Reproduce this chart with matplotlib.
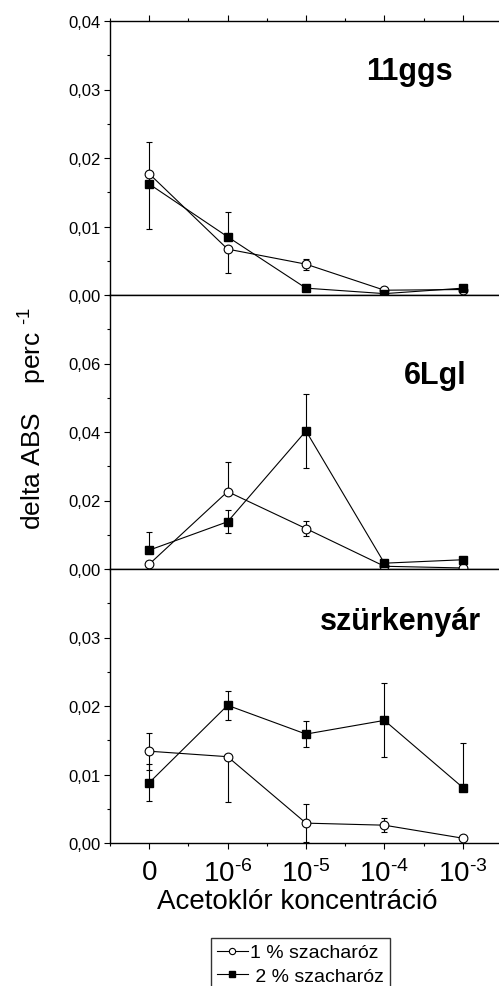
import matplotlib
matplotlib.use("Agg")
import matplotlib.pyplot as plt
from matplotlib.lines import Line2D
from matplotlib.ticker import MultipleLocator, FixedLocator, FuncFormatter

plt.rcParams['font.family'] = ['Liberation Sans', 'DejaVu Sans']
plt.rcParams['mathtext.fontset'] = 'custom'
plt.rcParams['mathtext.rm'] = 'Liberation Sans'
plt.rcParams['mathtext.it'] = 'Liberation Sans:italic'
plt.rcParams['mathtext.bf'] = 'Liberation Sans:bold'

# koncentrációk (egyenlő közökkel ábrázolva)
koncentraciok = ["0", r"10$^{\text{-6}}$", r"10$^{\text{-5}}$", r"10$^{\text{-4}}$", r"10$^{\text{-3}}$"]
x_pos = [0, 1, 2, 3, 4]

panel_nevek = ["11ggs", "6Lgl", "szürkenyár"]

# 1 % szacharóz (üres kör)
egy_11ggs = [0.0177, 0.0067, 0.0045, 0.0007, 0.0008]
egy_11ggs_le = [0.0, 0.0035, 0.0008, 0.0, 0.0]
egy_11ggs_fel = [0.0, 0.0, 0.0008, 0.0, 0.0]
egy_6lgl = [0.0014, 0.0226, 0.0118, 0.0008, 0.0003]
egy_6lgl_le = [0.0004, 0.0, 0.0022, 0.0, 0.0]
egy_6lgl_fel = [0.0004, 0.0086, 0.0022, 0.0, 0.0]
egy_szurke = [0.0134, 0.0126, 0.0029, 0.0026, 0.0007]
egy_szurke_le = [0.0027, 0.0066, 0.0028, 0.0010, 0.0]
egy_szurke_fel = [0.0027, 0.0, 0.0028, 0.0010, 0.0]

# 2 % szacharóz (teli négyzet)
ketto_11ggs = [0.0162, 0.0085, 0.0010, 0.0002, 0.0010]
ketto_11ggs_le = [0.0065, 0.0, 0.0, 0.0, 0.0]
ketto_11ggs_fel = [0.0061, 0.0036, 0.0, 0.0, 0.0]
ketto_6lgl = [0.0055, 0.0138, 0.0403, 0.0017, 0.0027]
ketto_6lgl_le = [0.0, 0.0033, 0.0107, 0.0, 0.0]
ketto_6lgl_fel = [0.0054, 0.0033, 0.0107, 0.0, 0.0]
ketto_szurke = [0.0088, 0.0201, 0.0159, 0.0179, 0.0081]
ketto_szurke_le = [0.0027, 0.0021, 0.0019, 0.0054, 0.0]
ketto_szurke_fel = [0.0027, 0.0021, 0.0019, 0.0054, 0.0065]

egy = [(egy_11ggs, egy_11ggs_le, egy_11ggs_fel),
       (egy_6lgl, egy_6lgl_le, egy_6lgl_fel),
       (egy_szurke, egy_szurke_le, egy_szurke_fel)]
ketto = [(ketto_11ggs, ketto_11ggs_le, ketto_11ggs_fel),
         (ketto_6lgl, ketto_6lgl_le, ketto_6lgl_fel),
         (ketto_szurke, ketto_szurke_le, ketto_szurke_fel)]

y_max = [0.04, 0.08, 0.04]
y_lepes = [0.01, 0.02, 0.01]
y_tickek = [[0, 0.01, 0.02, 0.03, 0.04], [0, 0.02, 0.04, 0.06], [0, 0.01, 0.02, 0.03]]
felirat_hely = [(0.763, 0.788), (0.829, 0.679), (0.742, 0.781)]

W, H = 499, 987
fig = plt.figure(figsize=(W / 100, H / 100), dpi=100)

bal = 110 / W
szel = (502 - 110) / W
mag = 274 / H
aljak = [1 - 296 / H, 1 - 570 / H, 1 - 844 / H]

vesszo = FuncFormatter(lambda v, p: f"{v:.2f}".replace('.', ','))

for i in range(3):
    ax = fig.add_axes([bal, aljak[i], szel, mag])
    ertek, le, fel = egy[i]
    ax.errorbar(x_pos, ertek, yerr=[le, fel], color='black', marker='o',
                mfc='white', mec='black', ms=6.3, lw=0.8, elinewidth=0.8,
                capsize=2.5, capthick=0.8, mew=0.8, zorder=3)
    ertek, le, fel = ketto[i]
    ax.errorbar(x_pos, ertek, yerr=[le, fel], color='black', marker='s',
                mfc='black', mec='black', ms=5.5, lw=0.8, elinewidth=0.8,
                capsize=2.5, capthick=0.8, zorder=3)

    ax.set_xlim(-0.5, 4.5)
    ax.set_ylim(0, y_max[i])
    ax.yaxis.set_major_locator(FixedLocator(y_tickek[i]))
    ax.yaxis.set_minor_locator(MultipleLocator(y_lepes[i] / 2))
    ax.yaxis.set_major_formatter(vesszo)
    ax.xaxis.set_major_locator(FixedLocator(x_pos))
    ax.xaxis.set_minor_locator(FixedLocator([-0.5, 0.5, 1.5, 2.5, 3.5]))
    ax.spines['right'].set_visible(False)
    for s in ax.spines.values():
        s.set_linewidth(1.0)
    ax.tick_params(axis='y', which='major', direction='out', length=4, width=0.8,
                   labelsize=12, pad=3)
    ax.tick_params(axis='y', which='minor', direction='out', length=2.5, width=0.8)
    ax.tick_params(axis='x', which='major', direction='out', length=4.5, width=0.8)
    ax.tick_params(axis='x', which='minor', direction='out', length=2.5, width=0.8)
    if i == 0:
        ax.tick_params(axis='x', which='both', top=True)
    if i < 2:
        ax.set_xticklabels([])
    else:
        ax.set_xticklabels(koncentraciok, fontsize=20)
        ax.tick_params(axis='x', which='major', pad=7)
        ax.set_xlabel("Acetoklór koncentráció", fontsize=20)
        ax.xaxis.set_label_coords(0.477, -0.165)

    fx, fy = felirat_hely[i]
    ax.text(fx, fy, panel_nevek[i], transform=ax.transAxes, ha='center',
            va='baseline', fontsize=22, fontweight='bold')

fig.text(33 / W, 1 - 418 / H, r"delta ABS    perc $^{\text{-1}}$", rotation=90,
         ha='center', va='center', fontsize=19)

kezelok = [Line2D([], [], color='black', lw=0.8, marker='o', mfc='white',
                  mec='black', ms=4.5, mew=0.8),
           Line2D([], [], color='black', lw=0.8, marker='s', mfc='black',
                  mec='black', ms=4.5)]
leg = fig.legend(kezelok, ["1 % szacharóz", " 2 % szacharóz"],
                 loc='upper left', bbox_to_anchor=(211 / W, 1 - 939 / H),
                 bbox_transform=fig.transFigure, borderaxespad=0, fontsize=14,
                 frameon=True, fancybox=False, edgecolor='black',
                 handlelength=1.6, handletextpad=0.1, borderpad=0.3,
                 labelspacing=0.3)
leg.get_frame().set_linewidth(1.0)

fig.savefig("out.png", dpi=100)
